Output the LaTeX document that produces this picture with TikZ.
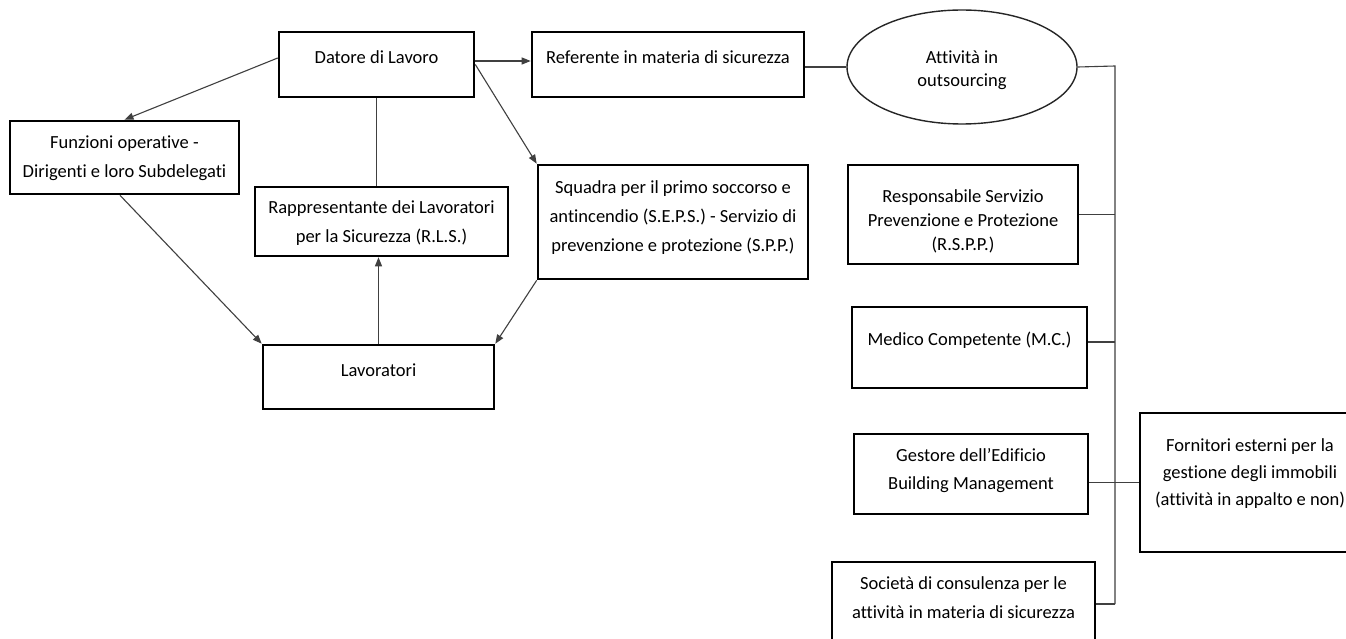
\documentclass[tikz,border=0pt]{standalone}
\usepackage{fontspec}
\setmainfont{Carlito}[Ligatures=NoCommon]
\usetikzlibrary{arrows.meta,shapes.geometric}
\begin{document}
\begin{tikzpicture}[x=1pt,y=-1pt,
  box/.style={draw=black, line width=2.6pt, rectangle, inner sep=0pt},
  ellbox/.style={draw=black!85, line width=1.4pt, ellipse, inner sep=0pt},
  txt/.style={font=\fontsize{18.5}{29}\selectfont, align=center, inner sep=0pt, text=black},
  conn/.style={draw=black!75, line width=1.1pt},
  arr/.style={conn, -{Triangle[length=9pt,width=7pt]}},
]
\useasboundingbox[fill=white] (0,0) rectangle (1346,639);

% boxes
\node[box, minimum width=195, minimum height=65] (datore) at (376.5,64.5) {};
\node[box, minimum width=229, minimum height=73] (funz) at (124.5,157.5) {};
\node[box, minimum width=253, minimum height=69] (rls) at (381.5,221.5) {};
\node[box, minimum width=270, minimum height=114] (squadra) at (673,222) {};
\node[box, minimum width=231, minimum height=64] (lav) at (378.5,377) {};
\node[box, minimum width=272, minimum height=65] (ref) at (668,64.5) {};
\node[ellbox, minimum width=230, minimum height=114] (ell) at (962,67) {};
\node[box, minimum width=230, minimum height=99] (rspp) at (963,214.5) {};
\node[box, minimum width=235, minimum height=81] (medico) at (969.5,347.5) {};
\node[box, minimum width=234, minimum height=80] (gestore) at (971,474) {};
\node[box, minimum width=263, minimum height=98] (societa) at (963.5,611) {};
\node[box, minimum width=220, minimum height=139] (forn) at (1250,482.5) {};

% texts
\node[txt] (t-datore) at (376.5,57) {Datore di Lavoro};
\node[txt] (t-funz) at (124.5,158) {Funzioni operative -\\Dirigenti e loro Subdelegati};
\node[txt] (t-rls) at (381.5,223.5) {Rappresentante dei Lavoratori\\per la Sicurezza (R.L.S.)};
\node[txt] (t-squadra) at (673,217.5) {Squadra per il primo soccorso e\\antincendio (S.E.P.S.) - Servizio di\\prevenzione e protezione (S.P.P.)};
\node[txt] (t-lav) at (378.5,370) {Lavoratori};
\node[txt] (t-ref) at (668,57) {Referente in materia di sicurezza};
\node[txt, font=\fontsize{18.5}{23}\selectfont] (t-ell) at (962,70.5) {Attività in\\outsourcing};
\node[txt, font=\fontsize{18.5}{24}\selectfont] (t-rspp) at (963,221) {Responsabile Servizio\\Prevenzione e Protezione\\(R.S.P.P.)};
\node[txt] (t-medico) at (969.5,340) {Medico Competente (M.C.)};
\node[txt, font=\fontsize{18.5}{28}\selectfont] (t-gestore) at (971,471) {Gestore dell’Edificio\\Building Management};
\node[txt] (t-societa) at (963.5,597.5) {Società di consulenza per le\\attività in materia di sicurezza};
\node[txt, font=\fontsize{18.5}{27}\selectfont] (t-forn) at (1250,474) {Fornitori esterni per la\\gestione degli immobili\\(attività in appalto e non)};

% bus coordinates
\coordinate (bustop) at (1115,66);
\coordinate (busbot) at (1115,604);

% connectors
\draw[arr] ([yshift=6.5pt]datore.west) -- (funz.north);
\draw[arr] ([yshift=3.5pt]datore.east) -- ([yshift=3.5pt]ref.west);
\draw[arr] (datore.east) -- (squadra.north west);
\draw[conn] (datore.south) -- (datore.south |- rls.north);
\draw[arr] (lav.north) -- (lav.north |- rls.south);
\draw[arr] ([xshift=-4.5pt]funz.south) -- (lav.north west);
\draw[arr] (squadra.south west) -- (lav.north east);
\draw[conn] (ell.west -| ref.east) -- (ell.west);
\draw[conn] (ell.east) -- (bustop) -- (busbot);
\draw[conn] (rspp.east) -- (rspp.east -| bustop);
\draw[conn] ([yshift=5.5pt]medico.east) -- ([yshift=5.5pt]medico.east -| bustop);
\draw[conn] (gestore.east |- forn.west) -- (forn.west);
\draw[conn] (societa.east |- busbot) -- (busbot);
\end{tikzpicture}
\end{document}
